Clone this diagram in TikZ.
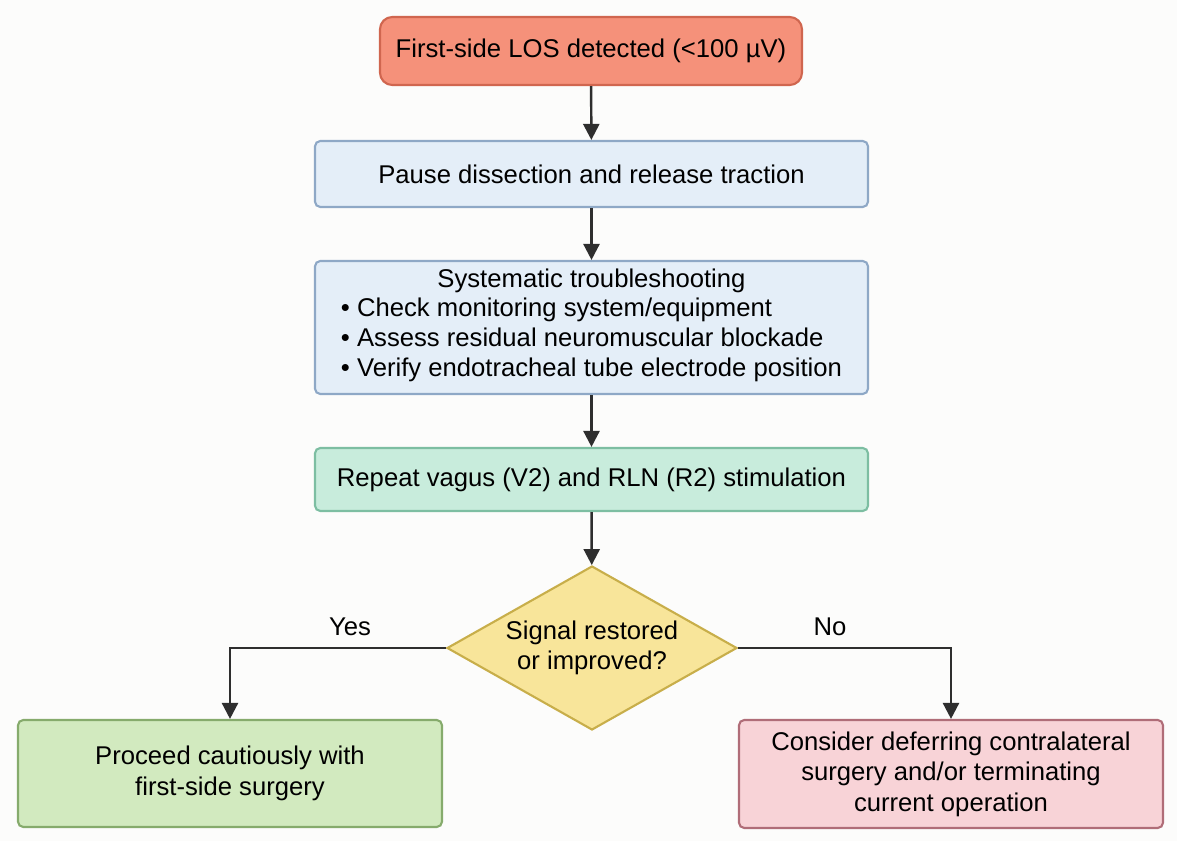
\documentclass[tikz,border=0pt]{standalone}
\usepackage{fontspec}
\setmainfont{Liberation Sans}
\usepackage{tikz}
\usetikzlibrary{arrows.meta,positioning,calc,shapes.geometric}
\definecolor{losfill}{HTML}{F5917A}
\definecolor{losdraw}{HTML}{D0664F}
\definecolor{softblue}{HTML}{E4EEF8}
\definecolor{bluedraw}{HTML}{8EA8C6}
\definecolor{softteal}{HTML}{C8ECDC}
\definecolor{tealdraw}{HTML}{7DBEA2}
\definecolor{softyellow}{HTML}{F8E59A}
\definecolor{yellowdraw}{HTML}{C8AE4A}
\definecolor{softgreen}{HTML}{D2EABF}
\definecolor{greendraw}{HTML}{86AB6C}
\definecolor{softpink}{HTML}{F8D3D7}
\definecolor{pinkdraw}{HTML}{B06D78}
\definecolor{linegray}{HTML}{2E2E2E}
\definecolor{paper}{HTML}{FCFCFB}

\begin{document}
\begin{tikzpicture}[
  font=\fontsize{14.6}{17.3}\selectfont,
  box/.style={draw,rounded corners=3pt,line width=1.2pt,align=center,
    inner sep=4pt},
  decision/.style={diamond,draw=yellowdraw,fill=softyellow,line width=1.2pt,
    align=center,inner sep=0pt,aspect=1.77,minimum width=5.8cm,
    minimum height=3.28cm},
  flow/.style={-{Triangle[length=3.2mm,width=3.2mm]},line width=1.4pt,
    draw=linegray},
  branch/.style={font=\fontsize{14.6}{17}\selectfont}
]
  \useasboundingbox[fill=paper] (0,0) rectangle (23.54,16.82);

  \node[box,rounded corners=7pt,fill=losfill,draw=losdraw,minimum width=8.44cm,
    minimum height=1.36cm] (los) at (11.82,15.80)
    {First-side LOS detected (<100 µV)};
  \node[box,fill=softblue,draw=bluedraw,minimum width=11.06cm,
    minimum height=1.32cm] (pause) at (11.83,13.34)
    {Pause dissection and release traction};
  \node[box,fill=softblue,draw=bluedraw,minimum width=11.06cm,
    minimum height=2.66cm] (check) at (11.83,10.27)
    {Systematic troubleshooting\\
     \begin{tabular}{@{}l@{}}
       • Check monitoring system/equipment\\
       • Assess residual neuromuscular blockade\\
       • Verify endotracheal tube electrode position
     \end{tabular}};
  \node[box,fill=softteal,draw=tealdraw,minimum width=11.06cm,
    minimum height=1.26cm] (repeat) at (11.83,7.23)
    {Repeat vagus (V2) and RLN (R2) stimulation};
  \node[decision] (signal) at (11.84,3.86)
    {Signal restored\\or improved?};
  \node[box,fill=softgreen,draw=greendraw,minimum width=8.48cm,
    minimum height=2.14cm] (proceed) at (4.60,1.35)
    {Proceed cautiously with\\first-side surgery};
  \node[box,fill=softpink,draw=pinkdraw,minimum width=8.48cm,
    minimum height=2.16cm] (defer) at (19.02,1.34)
    {Consider deferring contralateral\\surgery and/or terminating\\current operation};

  \draw[flow] (los) -- (pause);
  \draw[flow] (pause) -- (check);
  \draw[flow] (check) -- (repeat);
  \draw[flow] (repeat) -- (signal);
  \draw[flow] (signal.west) -| (proceed.north);
  \draw[flow] (signal.east) -| (defer.north);

  \node[branch] (yes) at (7.00,4.28) {Yes};
  \node[branch] (no) at (16.60,4.28) {No};
\end{tikzpicture}
\end{document}
